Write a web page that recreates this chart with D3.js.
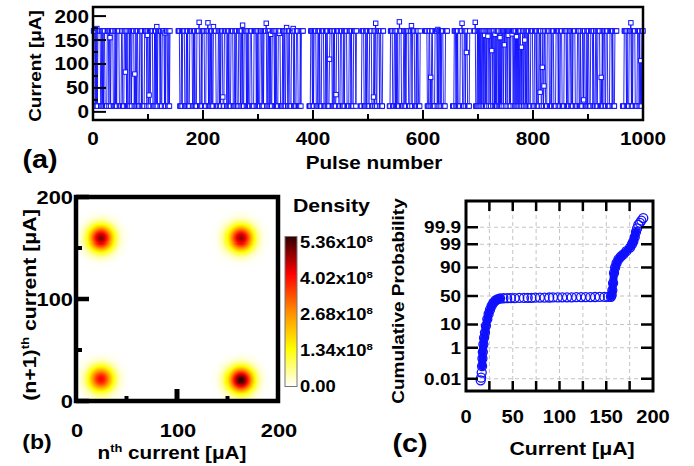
<!DOCTYPE html>
<html lang="en">
<head>
<meta charset="UTF-8">
<title>Pulse switching figure</title>
<style>
  body { margin: 0; background: #fff; }
  svg { display: block; font-family: "Liberation Sans", Arial, sans-serif; font-weight: bold; }
</style>
</head>
<body>
<svg id="fig" width="694" height="466"></svg>
<script src="https://d3js.org/d3.v7.min.js"></script>
<script>
// ---------- data ----------
// (a) pulse train: 1 = high state, 0 = low state, - = no point
const highLevel = 169, lowLevel = 12;
const pulseStates = [
  "1110100011 1110010101 1000011101 0011110001 0101111000",
  "0110001111 0100010110 1111000101 1000111010 0001111011",
  "0010111100 0101000111 1010011110 0011100101 ----------",
  "----111000 1011110001 0100011111 0010100011 1100001011",
  "1100011110 1001010001 1110000110 1011100011 1100101000",
  "1111000101 1000111011 0000111101 0100011100 0011110101",
  "0001110010 1111000110 1000011110 1010001111 0000101100",
  "1110011000 1111010001 1100001011 11-------- --00011101",
  "0111100011 0100011110 0010110000 1111001010 0011110001",
  "1100010111 1000011101 000111101- ------0011 1100010110",
  "0011110001 1010001111 01100011-- --------00 1111000110",
  "1010001111 0000110101 1110001100 1111000101 10001-----",
  "---1111000 1101011000 0111100011 0101110000 1111------",
  "---0001110 1010000111 1000110111 00001----- --11100010",
  "1010101101 0110101010 1101010110 1010110101 0101101010",
  "1101010101 1010110101 0101011010 1101001011 0100011110",
  "0011101000 1111000101 1100011110 0010111000 0111101001",
  "1100001111 0100011100 1011110000 1110010001 1111000101",
  "1000111101 0001100111 1000010111 0011100001 1110100011",
  "11-------- --00011110 1000111001 0111100001 1101000111"
].join("").replace(/\s/g, "");
// pulses that landed between the two levels: [pulse, current]
const outliers = [
  [7, 174], [31, 155], [59, 83], [76, 79], [99, 160], [102, 35], [116, 178], [131, 165],
  [193, 187], [209, 186], [219, 178], [236, 31], [272, 181], [315, 185], [323, 162],
  [339, 164], [352, 176], [364, 174], [430, 110], [442, 36], [510, 31], [514, 185],
  [557, 188], [579, 180], [614, 72], [627, 172], [671, 185], [679, 124], [695, 187],
  [712, 160], [718, 158], [725, 128], [731, 162], [740, 155], [748, 140], [755, 160],
  [762, 163], [770, 157], [779, 135], [785, 150], [813, 41], [817, 93], [820, 54],
  [892, 25], [924, 72], [978, 186], [996, 107]
];
const pulseTicks = [0, 200, 400, 600, 800, 1000];
const currentTicksA = [0, 50, 100, 150, 200];

// (b) return map density peaks
const blobX = [25, 163, 25, 163];
const blobY = [160, 160, 22, 21];
const blobPeak = [4.8e8, 4.7e8, 4.0e8, 5.36e8];
const blobSigma = 8.5;
const densityTicks = [0, 1.34e8, 2.68e8, 4.02e8, 5.36e8];
const densityLabels = ["0.00", "1.34x10|8", "2.68x10|8", "4.02x10|8", "5.36x10|8"];
const densityColors = ["#ffffff", "#ffff00", "#ff8c00", "#ff0000", "#300000"];
const mapTicks = [0, 100, 200];

// (c) cumulative probability plot
const cdfCurrent = [15.7, 16.2, 16.8, 17.2, 17.6, 18.0, 18.6, 19.3, 20.3, 21.3, 22.8, 24.2, 25.7, 27.4,
  29.2, 31.5, 34.0, 36.4, 40, 44, 48, 52, 57, 62, 66, 70, 74, 79, 84, 89, 93, 98, 103, 108, 113,
  118, 123, 128, 133, 138, 143, 148, 152, 155.0, 155.8, 156.5, 157.3, 158.3, 159.5, 161, 163,
  165.5, 168.3, 171.5, 175.4, 177.5, 179, 180.5, 181.8, 183, 184.3, 186, 187.5, 189.6];
const cdfProb = [0.0075, 0.012, 0.029, 0.08, 0.25, 0.6, 1.5, 3, 5, 9, 15, 21, 27, 33,
  38, 42, 44.5, 45.5, 46, 46.1, 46.3, 46.3, 46.5, 46.6, 46.8, 46.8, 47, 47.1, 47.1, 47.3, 47.4, 47.4, 47.6, 47.7, 47.7,
  47.9, 48, 48, 48.1, 48.2, 48.3, 48.3, 48.4, 48.6, 52, 60, 72, 85, 90, 93, 95,
  96.2, 96.9, 97.8, 98.5, 99, 99.3, 99.6, 99.8, 99.88, 99.93, 99.95, 99.965, 99.977];
const probTicks = [0.01, 1, 10, 50, 90, 99, 99.9];
const currentTicksC = [0, 50, 100, 150, 200];

// ---------- helpers ----------
const svg = d3.select("#fig");
const blue = "#1010ff";

// text with slight horizontal stretch like the original; "|" marks a superscript
function txt(x, y, s, o = {}) {
  const t = svg.append("text")
    .attr("transform", `translate(${x},${y}) rotate(${o.rot || 0}) scale(1.15,1)`)
    .attr("text-anchor", o.anchor || "middle")
    .attr("font-size", o.size || 18)
    .attr("dy", o.dy || 0);
  String(s).split("|").forEach((part, i) => {
    const sp = t.append("tspan").text(part);
    if (i % 2 === 1) sp.attr("font-size", (o.size || 18) * 0.62).attr("dy", -(o.size || 18) * 0.4);
    if (i % 2 === 0 && i > 0) sp.attr("dy", (o.size || 18) * 0.4);
  });
  return t;
}

function tick(x1, y1, x2, y2, w) {
  svg.append("line").attr("x1", x1).attr("y1", y1).attr("x2", x2).attr("y2", y2)
    .attr("stroke", "#000").attr("stroke-width", w);
}

// inverse normal CDF (for probability axis)
function probit(p) {
  const a = [-3.969683028665376e+01, 2.209460984245205e+02, -2.759285104469687e+02, 1.383577518672690e+02, -3.066479806614716e+01, 2.506628277459239e+00];
  const b = [-5.447609879822406e+01, 1.615858368580409e+02, -1.556989798598866e+02, 6.680131188771972e+01, -1.328068155288572e+01];
  const c = [-7.784894002430293e-03, -3.223964580411365e-01, -2.400758277161838e+00, -2.549732539343734e+00, 4.374664141464968e+00, 2.938163982698783e+00];
  const d = [7.784695709041462e-03, 3.224671290700398e-01, 2.445134137142996e+00, 3.754408661907416e+00];
  const pl = 0.02425;
  if (p < pl) {
    const q = Math.sqrt(-2 * Math.log(p));
    return (((((c[0]*q+c[1])*q+c[2])*q+c[3])*q+c[4])*q+c[5]) / ((((d[0]*q+d[1])*q+d[2])*q+d[3])*q+1);
  }
  if (p > 1 - pl) {
    const q = Math.sqrt(-2 * Math.log(1 - p));
    return -(((((c[0]*q+c[1])*q+c[2])*q+c[3])*q+c[4])*q+c[5]) / ((((d[0]*q+d[1])*q+d[2])*q+d[3])*q+1);
  }
  const q = p - 0.5, r = q * q;
  return (((((a[0]*r+a[1])*r+a[2])*r+a[3])*r+a[4])*r+a[5])*q / (((((b[0]*r+b[1])*r+b[2])*r+b[3])*r+b[4])*r+1);
}

// ---------- (a) pulse train ----------
const xA = d3.scaleLinear([0, 1000], [93, 643]);
const yA = d3.scaleLinear([-17, 219], [120, 7]);

const series = Array.from(pulseStates, (ch, i) => ({
  p: i + 1,
  v: ch === "-" ? null : (ch === "1" ? highLevel : lowLevel)
}));
outliers.forEach(([p, v]) => { series[p - 1].v = v; });

svg.append("path")
  .datum(series)
  .attr("fill", "none")
  .attr("stroke", blue)
  .attr("stroke-width", 0.9)
  .attr("d", d3.line().defined(d => d.v != null).x(d => xA(d.p)).y(d => yA(d.v)));

svg.append("g").selectAll("rect")
  .data(series.filter(d => d.v != null))
  .join("rect")
  .attr("x", d => xA(d.p) - 2.2)
  .attr("y", d => yA(d.v) - 2.2)
  .attr("width", 4.4).attr("height", 4.4)
  .attr("fill", "#fff")
  .attr("stroke", blue)
  .attr("stroke-width", 1);

svg.append("rect").attr("x", 93).attr("y", 7).attr("width", 550).attr("height", 113)
  .attr("fill", "none").attr("stroke", "#000").attr("stroke-width", 2.5);

currentTicksA.forEach(v => tick(93, yA(v), 106, yA(v), 2));
[25, 75, 125, 175].forEach(v => tick(93, yA(v), 98, yA(v), 2));
pulseTicks.forEach(v => tick(xA(v), 120, xA(v), 110, 2));
[100, 300, 500, 700, 900].forEach(v => tick(xA(v), 120, xA(v), 114, 2));

pulseTicks.forEach(v => txt(xA(v), 145, v, { size: 18 }));
currentTicksA.forEach(v => txt(89, yA(v), v, { size: 18, anchor: "end", dy: "0.36em" }));
txt(41, 66, "Current [μA]", { size: 16.5, rot: -90 });
txt(374, 169, "Pulse number", { size: 18 });
txt(40, 168, "(a)", { size: 25 });

// ---------- (b) return map ----------
const xB = d3.scaleLinear([0, 200], [76, 278]);
const yB = d3.scaleLinear([0, 200], [401, 197]);
const colorB = d3.scaleLinear(densityTicks, densityColors);

const cells = [];
for (let gx = 0; gx < 200; gx++) {
  for (let gy = 0; gy < 200; gy++) {
    const cx = gx + 0.5, cy = gy + 0.5;
    let dens = 0;
    blobX.forEach((bx, k) => {
      const dx = cx - bx, dy = cy - blobY[k];
      dens += blobPeak[k] * Math.exp(-(dx * dx + dy * dy) / (2 * blobSigma * blobSigma));
    });
    if (dens > 2e6) cells.push({ gx, gy, dens });
  }
}
svg.append("g").attr("shape-rendering", "crispEdges").selectAll("rect")
  .data(cells)
  .join("rect")
  .attr("x", d => xB(d.gx))
  .attr("y", d => yB(d.gy + 1))
  .attr("width", xB(1) - xB(0) + 0.6)
  .attr("height", yB(0) - yB(1) + 0.6)
  .attr("fill", d => colorB(d.dens));

svg.append("rect").attr("x", 76).attr("y", 197).attr("width", 202).attr("height", 204)
  .attr("fill", "none").attr("stroke", "#000").attr("stroke-width", 4.5);

mapTicks.forEach(v => tick(76, yB(v), 89, yB(v), 4.5));
[50, 150].forEach(v => tick(76, yB(v), 82, yB(v), 4));
tick(xB(100), 401, xB(100), 389, 5);
[50, 150].forEach(v => tick(xB(v), 401, xB(v), 396, 4));

mapTicks.forEach(v => txt(xB(v) + 1, 437, v, { size: 19 }));
mapTicks.forEach(v => txt(73, yB(v), v, { size: 19, anchor: "end", dy: "0.36em" }));
txt(36, 305, "(n+1)|th| current [μA]", { size: 18.5, rot: -90 });
txt(172, 459, "n|th| current [μA]", { size: 18 });
txt(37, 449, "(b)", { size: 20 });

// colour bar
const cbY = d3.scaleLinear([0, 5.36e8], [386.5, 236.5]);
const cbLabelY = d3.scaleLinear([0, 5.36e8], [386.5, 242.5]);
const cbSteps = d3.range(0, 150).map(i => 5.36e8 * i / 150);
svg.append("g").attr("shape-rendering", "crispEdges").selectAll("rect")
  .data(cbSteps)
  .join("rect")
  .attr("x", 285).attr("width", 12)
  .attr("y", d => cbY(d + 5.36e8 / 150))
  .attr("height", 1.6)
  .attr("fill", d => colorB(d));
svg.append("rect").attr("x", 285).attr("y", 236.5).attr("width", 12).attr("height", 150)
  .attr("fill", "none").attr("stroke", "#777").attr("stroke-width", 1);
densityTicks.forEach((v, i) => txt(300, cbLabelY(v), densityLabels[i] + (i ? "|" : ""), { size: 16, anchor: "start", dy: "0.36em" }));
txt(293, 212, "Density", { size: 18.5, anchor: "start" });

// ---------- (c) cumulative probability ----------
const xC = d3.scaleLinear([0, 200], [466, 653]);
const zC = d3.scaleLinear([-4.27, 4.27], [391, 201]);
const yC = p => zC(probit(p / 100));

const grid = svg.append("g").attr("stroke", "#c4c4c4").attr("stroke-width", 1).attr("stroke-dasharray", "4,3");
d3.range(25, 200, 25).forEach(v => grid.append("line").attr("x1", xC(v)).attr("x2", xC(v)).attr("y1", 201).attr("y2", 391));
probTicks.forEach(p => grid.append("line").attr("x1", 466).attr("x2", 653).attr("y1", yC(p)).attr("y2", yC(p)));

const cdf = cdfCurrent.map((c, i) => ({ c, p: cdfProb[i] }));
const bandLine = d3.line().x(d => xC(d.c)).y(d => yC(d.p));
[cdf.slice(3, 18), cdf.slice(43, 59)].forEach(seg => {
  svg.append("path").datum(seg).attr("fill", "none").attr("stroke", blue)
    .attr("stroke-width", 8).attr("stroke-linejoin", "round").attr("stroke-linecap", "round")
    .attr("d", bandLine);
});
svg.append("g").selectAll("circle")
  .data(cdf)
  .join("circle")
  .attr("cx", d => xC(d.c))
  .attr("cy", d => yC(d.p))
  .attr("r", 4.5)
  .attr("fill", "none")
  .attr("stroke", blue)
  .attr("stroke-width", 1.3);

svg.append("rect").attr("x", 466).attr("y", 201).attr("width", 187).attr("height", 190)
  .attr("fill", "none").attr("stroke", "#000").attr("stroke-width", 3);

probTicks.forEach(p => { tick(466, yC(p), 478, yC(p), 2.5); tick(653, yC(p), 641, yC(p), 2.5); });
d3.range(25, 200, 25).forEach(v => { tick(xC(v), 391, xC(v), 381, 2.5); tick(xC(v), 201, xC(v), 211, 2.5); });

currentTicksC.forEach(v => txt(xC(v), 423, v, { size: 17.5 }));
probTicks.forEach(p => txt(461, yC(p), p, { size: 16.5, anchor: "end", dy: "0.36em" }));
txt(404, 301, "Cumulative Probability", { size: 16.5, rot: -90 });
txt(572, 455, "Current [μA]", { size: 18.5 });
txt(410, 452, "(c)", { size: 25 });
</script>
</body>
</html>
